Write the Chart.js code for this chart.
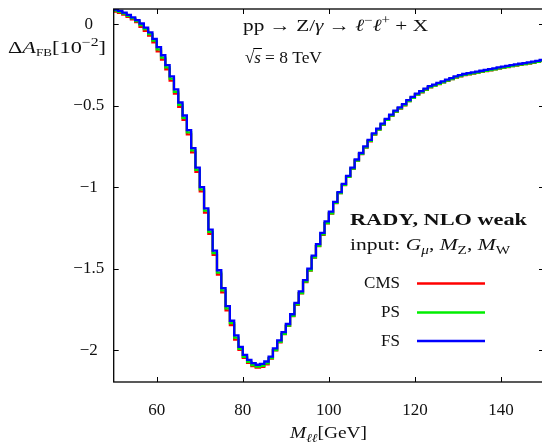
<!DOCTYPE html>
<html>
<head>
<meta charset="utf-8">
<script src="https://cdn.jsdelivr.net/npm/chart.js@4.4.1/dist/chart.umd.min.js"></script>
<style>
  html, body { margin: 0; padding: 0; background: #fff; overflow: hidden; }
  #wrap { width: 546px; height: 445px; }
</style>
</head>
<body>
<div id="wrap"><canvas id="afb" width="546" height="445"></canvas></div>
<script>
// Binning: 1 GeV bins from 50 to 150 GeV
const firstEdge = 50;
const lastEdge = 150;

// Delta A_FB [10^-2] per bin (bins 50-51 ... 149-150)
const fsValues = [
  0.090, 0.082, 0.072, 0.058, 0.043, 0.026, 0.005, -0.020, -0.050, -0.090,
  -0.140, -0.190, -0.250, -0.320, -0.400, -0.480, -0.560, -0.650, -0.760, -0.880,
  -1.000, -1.130, -1.260, -1.390, -1.510, -1.620, -1.730, -1.820, -1.910, -1.980,
  -2.030, -2.060, -2.080, -2.090, -2.085, -2.070, -2.040, -1.990, -1.940, -1.890,
  -1.840, -1.780, -1.710, -1.640, -1.570, -1.500, -1.420, -1.350, -1.280, -1.210,
  -1.150, -1.090, -1.030, -0.980, -0.930, -0.880, -0.830, -0.790, -0.750, -0.710,
  -0.670, -0.640, -0.610, -0.580, -0.555, -0.530, -0.510, -0.490, -0.465, -0.445,
  -0.425, -0.410, -0.395, -0.380, -0.370, -0.360, -0.350, -0.340, -0.330, -0.320,
  -0.312, -0.305, -0.300, -0.295, -0.290, -0.285, -0.280, -0.275, -0.270, -0.265,
  -0.260, -0.255, -0.250, -0.246, -0.242, -0.238, -0.234, -0.229, -0.224, -0.219
];
const psValues = [
  0.084, 0.076, 0.066, 0.052, 0.037, 0.020, -0.005, -0.030, -0.060, -0.100,
  -0.154, -0.204, -0.264, -0.334, -0.414, -0.494, -0.574, -0.664, -0.774, -0.894,
  -1.014, -1.144, -1.274, -1.404, -1.524, -1.634, -1.744, -1.834, -1.924, -1.992,
  -2.042, -2.072, -2.092, -2.102, -2.097, -2.082, -2.050, -2.000, -1.950, -1.900,
  -1.850, -1.790, -1.720, -1.650, -1.580, -1.510, -1.430, -1.360, -1.290, -1.220,
  -1.160, -1.096, -1.036, -0.986, -0.936, -0.886, -0.836, -0.796, -0.756, -0.716,
  -0.676, -0.646, -0.616, -0.586, -0.561, -0.536, -0.516, -0.496, -0.471, -0.451,
  -0.431, -0.416, -0.401, -0.386, -0.376, -0.366, -0.356, -0.346, -0.336, -0.326,
  -0.318, -0.311, -0.306, -0.301, -0.296, -0.291, -0.286, -0.281, -0.276, -0.271,
  -0.266, -0.261, -0.256, -0.252, -0.248, -0.244, -0.240, -0.235, -0.230, -0.225
];
const cmsValues = [
  0.078, 0.070, 0.060, 0.046, 0.031, 0.014, -0.015, -0.040, -0.070, -0.110,
  -0.166, -0.216, -0.276, -0.346, -0.426, -0.506, -0.586, -0.676, -0.786, -0.906,
  -1.026, -1.156, -1.286, -1.416, -1.536, -1.646, -1.756, -1.846, -1.936, -1.998,
  -2.048, -2.078, -2.098, -2.108, -2.103, -2.088, -2.052, -2.002, -1.952, -1.902,
  -1.852, -1.792, -1.722, -1.652, -1.582, -1.512, -1.432, -1.362, -1.292, -1.222,
  -1.162, -1.097, -1.037, -0.987, -0.937, -0.887, -0.837, -0.797, -0.757, -0.718,
  -0.677, -0.647, -0.617, -0.587, -0.562, -0.537, -0.517, -0.497, -0.472, -0.452,
  -0.432, -0.417, -0.402, -0.387, -0.377, -0.367, -0.357, -0.347, -0.337, -0.327,
  -0.319, -0.312, -0.307, -0.302, -0.297, -0.292, -0.287, -0.282, -0.277, -0.272,
  -0.267, -0.262, -0.257, -0.253, -0.249, -0.245, -0.241, -0.236, -0.231, -0.226
];

// Tick labels
const xTicks = [60, 80, 100, 120, 140];
const yTicks = [0, -0.5, -1, -1.5, -2];

const SERIF = '"Liberation Serif", "DejaVu Serif", serif';
const RM = `17px ${SERIF}`;
const IT = `italic 17px ${SERIF}`;
const BF = `bold 17px ${SERIF}`;
const SUB = `12px ${SERIF}`;
const SUBIT = `italic 12px ${SERIF}`;

// Turn bin values into step points (lower edges + closing edge)
function toSteps(values) {
  const pts = values.map((v, i) => ({ x: firstEdge + i * (lastEdge - firstEdge) / values.length, y: v }));
  pts.push({ x: lastEdge, y: values[values.length - 1] });
  return pts;
}

// Draw a run of text pieces [text, font, dy]; optional target width squeezes/stretches it
function drawRich(ctx, x, y, parts, opts = {}) {
  let w = 0;
  parts.forEach(p => { ctx.font = p[1]; w += ctx.measureText(p[0]).width; });
  const sx = opts.width ? opts.width / w : 1;
  const x0 = opts.align === 'right' ? x - w * sx : x;
  ctx.save();
  ctx.translate(x0, y);
  ctx.scale(sx, 1);
  let cx = 0;
  parts.forEach(p => {
    ctx.font = p[1];
    ctx.fillText(p[0], cx, p[2] || 0);
    cx += ctx.measureText(p[0]).width;
  });
  ctx.restore();
  return x0 + w * sx;
}

// No automatic label overflow padding: the plot box is set by layout.padding only
function noScalePadding(s) {
  s.paddingTop = 0;
  s.paddingBottom = 0;
  s.paddingLeft = 0;
  s.paddingRight = 0;
}

// Frame, inner tick marks, annotations and legend
const decorations = {
  id: 'decorations',
  afterDraw(chart) {
    const { ctx, chartArea: a, scales } = chart;
    ctx.save();
    ctx.strokeStyle = '#000';
    ctx.lineWidth = 1.3;
    ctx.strokeRect(a.left, a.top, a.right - a.left, a.bottom - a.top);

    ctx.lineWidth = 1;
    ctx.beginPath();
    scales.x.ticks.forEach(t => {
      const px = Math.round(scales.x.getPixelForValue(t.value)) + 0.5;
      ctx.moveTo(px, a.bottom); ctx.lineTo(px, a.bottom - 5);
      ctx.moveTo(px, a.top); ctx.lineTo(px, a.top + 5);
    });
    scales.y.ticks.forEach(t => {
      const py = Math.round(scales.y.getPixelForValue(t.value)) + 0.5;
      ctx.moveTo(a.left, py); ctx.lineTo(a.left + 5, py);
      ctx.moveTo(a.right, py); ctx.lineTo(a.right - 5, py);
    });
    ctx.stroke();

    ctx.fillStyle = '#111';
    ctx.textBaseline = 'alphabetic';

    // y axis label
    drawRich(ctx, 8, 53, [
      ['\u0394', RM], ['A', IT], ['FB', `10px ${SERIF}`, 3],
      ['[10', RM], ['\u22122', SUB, -7], [']', RM]
    ], { width: 98 });

    // x axis label
    drawRich(ctx, 290, 438, [['M', IT], ['\u2113\u2113', SUBIT, 4], ['[GeV]', RM]], { width: 77 });

    // process text
    drawRich(ctx, 243, 31, [
      ['pp \u2192 Z/', RM], ['\u03b3', IT], [' \u2192 ', RM],
      ['\u2113', IT], ['\u2212', SUB, -7], ['\u2113', IT], ['+', SUB, -7], [' + X', RM]
    ], { width: 185 });

    // sqrt(s) = 8 TeV
    const rootEnd = drawRich(ctx, 245, 63, [['\u221a', RM]]);
    const sEnd = drawRich(ctx, rootEnd, 63, [['s', IT]]);
    ctx.lineWidth = 1;
    ctx.beginPath();
    ctx.moveTo(rootEnd - 1, 63 - 14.5);
    ctx.lineTo(sEnd + 1, 63 - 14.5);
    ctx.stroke();
    drawRich(ctx, sEnd + 4, 63, [['= 8 TeV', RM]], { width: 57 });

    // legend block
    drawRich(ctx, 350, 225, [['RADY, NLO weak', BF]], { width: 177 });
    drawRich(ctx, 350, 250, [
      ['input: ', RM], ['G', IT], ['\u03bc', SUBIT, 4], [', ', RM],
      ['M', IT], ['Z', SUB, 4], [', ', RM], ['M', IT], ['W', SUB, 4]
    ], { width: 160 });

    const entries = [['CMS', '#ff0000', 288, 283.5], ['PS', '#00ee00', 317, 312.5], ['FS', '#0000ff', 346, 341]];
    entries.forEach(e => {
      ctx.fillStyle = '#111';
      drawRich(ctx, 400, e[2], [[e[0], RM]], { align: 'right' });
      ctx.strokeStyle = e[1];
      ctx.lineWidth = 2.5;
      ctx.beginPath();
      ctx.moveTo(417, e[3]);
      ctx.lineTo(485, e[3]);
      ctx.stroke();
    });
    ctx.restore();
  }
};

function formatTick(v) {
  if (v === 0) return '0';
  return '\u2212' + Math.abs(v);
}

function createChart() {
  const ctx = document.getElementById('afb').getContext('2d');
  new Chart(ctx, {
    type: 'line',
    data: {
      datasets: [
        { label: 'FS', data: toSteps(fsValues), borderColor: '#0000ff' },
        { label: 'PS', data: toSteps(psValues), borderColor: '#00ee00' },
        { label: 'CMS', data: toSteps(cmsValues), borderColor: '#ff0000' }
      ]
    },
    options: {
      responsive: false,
      animation: false,
      events: [],
      layout: { padding: { left: 0, right: 2, top: 9, bottom: 0 } },
      elements: {
        point: { radius: 0 },
        line: { borderWidth: 2.3, stepped: true, fill: false, tension: 0 }
      },
      plugins: { legend: { display: false }, tooltip: { enabled: false } },
      scales: {
        x: {
          type: 'linear',
          min: 50,
          max: 150,
          grid: { display: false, drawTicks: false },
          border: { display: false },
          afterBuildTicks: s => { s.ticks = xTicks.map(v => ({ value: v })); },
          afterFit: s => { s.height = 63; noScalePadding(s); },
          ticks: { padding: 18, color: '#111', font: { family: SERIF, size: 17 }, maxRotation: 0 }
        },
        y: {
          min: -2.196,
          max: 0.094,
          grid: { display: false, drawTicks: false },
          border: { display: false },
          afterBuildTicks: s => { s.ticks = yTicks.map(v => ({ value: v })); },
          afterFit: s => { s.width = 113.7; noScalePadding(s); },
          ticks: {
            crossAlign: 'center',
            padding: 9.5,
            color: '#111',
            font: { family: SERIF, size: 17 },
            callback: v => formatTick(v)
          }
        }
      }
    },
    plugins: [decorations]
  });
}

document.addEventListener('DOMContentLoaded', createChart);
</script>
</body>
</html>
